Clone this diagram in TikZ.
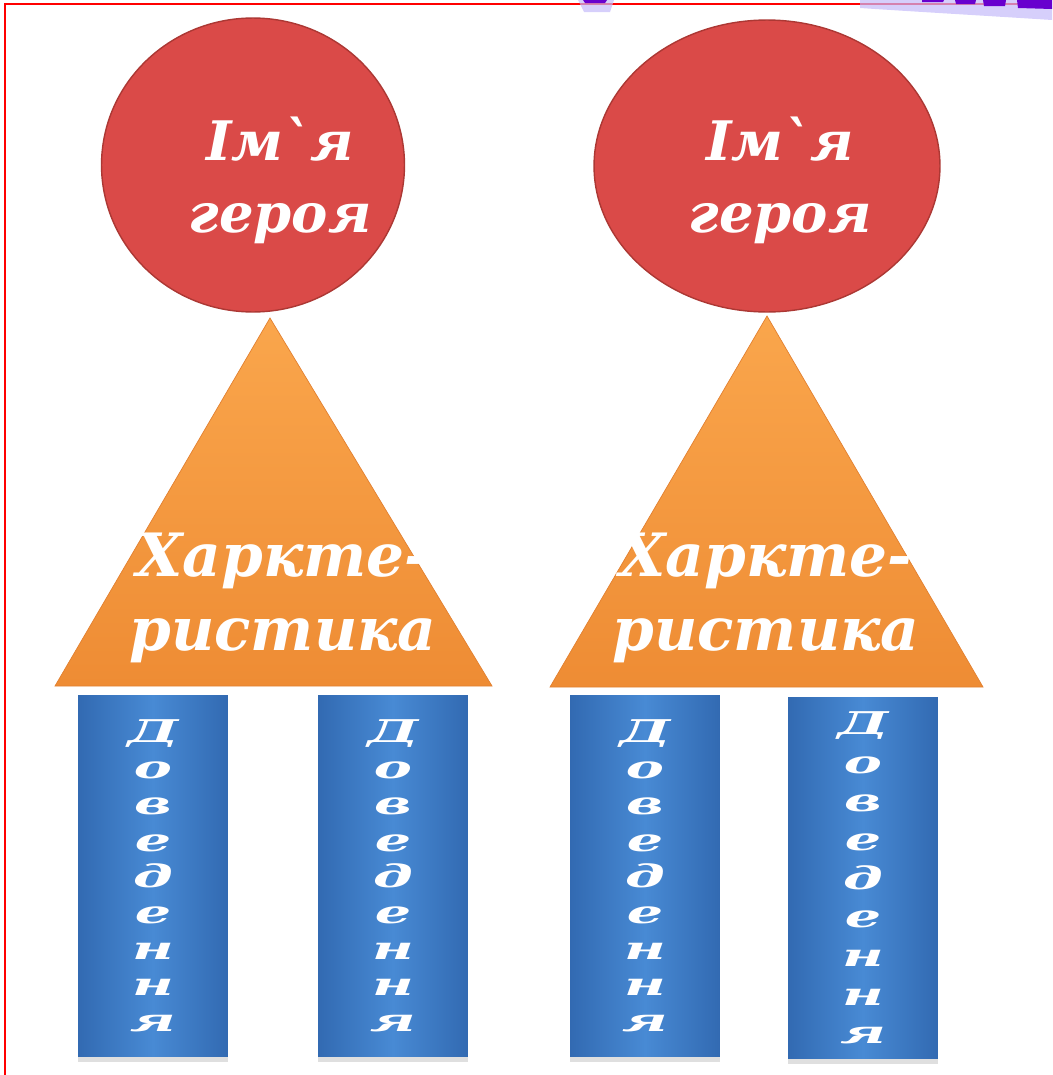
\documentclass[tikz,border=0pt]{standalone}
\usepackage{fontspec}
\usepackage{graphicx}
\setmainfont{DejaVu Serif}
\newfontfamily\herofont{DejaVu Serif}
\usetikzlibrary{shapes.geometric,shadows}

\definecolor{heroRed}{RGB}{218,74,72}
\definecolor{heroEdge}{RGB}{172,56,52}
\definecolor{traitTop}{RGB}{250,166,76}
\definecolor{traitBot}{RGB}{238,140,52}
\definecolor{traitEdge}{RGB}{226,128,48}
\definecolor{proofSide}{RGB}{50,106,178}
\definecolor{proofMid}{RGB}{72,138,212}
\definecolor{wordPurple}{RGB}{104,0,206}
\definecolor{wordGlow}{RGB}{196,186,250}

\newcommand{\wideletter}[1]{\scalebox{1.55}[0.85]{#1}}
\newcommand{\proofword}{\wideletter{Д}\\\wideletter{о}\\\wideletter{в}\\\wideletter{е}\\\wideletter{д}\\\wideletter{е}\\\wideletter{н}\\\wideletter{н}\\\wideletter{я}}

\begin{document}
\begin{tikzpicture}[
		x=0.02cm, y=-0.02cm,
		heroshape/.style={ellipse, fill=heroRed, draw=heroEdge, line width=0.8pt, inner sep=0pt},
		herotext/.style={text=white, align=center, font=\herofont\bfseries\itshape\fontsize{31}{41}\selectfont},
		traittext/.style={text=white, align=center, font=\herofont\bfseries\itshape\fontsize{34}{42.5}\selectfont},
		proofnode/.style={minimum width=3cm, minimum height=7.24cm, inner sep=0pt, left color=proofSide, right color=proofSide, middle color=proofMid, text=white, align=center, font=\bfseries\itshape\fontsize{21}{#1}\selectfont, drop shadow={shadow xshift=0pt, shadow yshift=-3pt, opacity=0.25}},
		proofnode/.default=20.6pt
	]
	\useasboundingbox (0,0) rectangle (1052,1075);

	% frame
	\draw[red, line width=1.2pt] (5,1075) -- (5,4) -- (1052,4);

	% bits of the title cut off at the top
	\fill[wordGlow, opacity=0.7] (578,0) -- (614,0) -- (610,12) -- (584,12) -- cycle;
	\fill[wordPurple] (583,0) -- (607,0) -- (605,3) -- (585,3) -- cycle;
	\fill[wordGlow, opacity=0.7] (860,0) -- (1052,0) -- (1052,20) .. controls (990,16) and (920,12) .. (860,8) -- cycle;
	\fill[wordPurple] (922,0) -- (944,0) -- (943,2) -- (922,2) -- cycle;
	\fill[wordPurple] (955,0) -- (976,0) -- (975,4) -- (956,4) -- cycle;
	\fill[wordPurple] (983,0) -- (1006,0) -- (1005,6) -- (984,6) -- cycle;
	\fill[wordPurple] (1017,0) -- (1052,0) -- (1052,9) -- (1018,8) -- cycle;

	% left group
	\coordinate (traitLtop) at (270,318);
	\coordinate (traitLleft) at (55,686);
	\coordinate (traitLright) at (492,686);
	\shade[top color=traitTop, bottom color=traitBot, draw=traitEdge, line width=0.4pt] (traitLtop) -- (traitLright) -- (traitLleft) -- cycle;
	\node[traittext] (traitLtext) at (283,598) {Харкте-\\ристика};

	\node[heroshape, minimum width=6.06cm, minimum height=5.88cm] (heroL) at (253,165) {};
	\node[herotext] (heroLtext) at (280,180) {Ім\textasciigrave я\\героя};

	\node[proofnode] (proofL1) at (153,876) {\proofword};
	\node[proofnode] (proofL2) at (393,876) {\proofword};

	% right group
	\coordinate (traitRtop) at (767,316);
	\coordinate (traitRleft) at (550,687);
	\coordinate (traitRright) at (983,687);
	\shade[top color=traitTop, bottom color=traitBot, draw=traitEdge, line width=0.4pt] (traitRtop) -- (traitRright) -- (traitRleft) -- cycle;
	\node[traittext] (traitRtext) at (766,598) {Харкте-\\ристика};

	\node[heroshape, minimum width=6.92cm, minimum height=5.84cm] (heroR) at (767,166) {};
	\node[herotext] (heroRtext) at (780,180) {Ім\textasciigrave я\\героя};

	\node[proofnode] (proofR1) at (645,876) {\proofword};
	\node[proofnode=22pt] (proofR2) at (863,878) {\proofword};
\end{tikzpicture}
\end{document}
